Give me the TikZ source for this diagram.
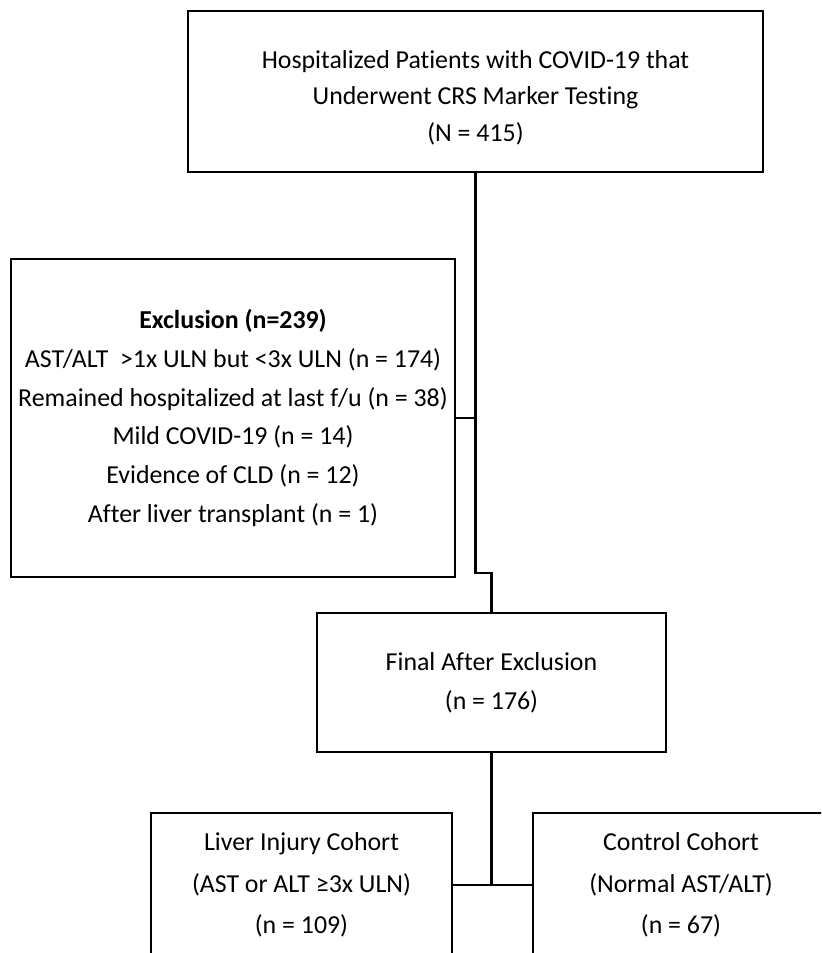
\documentclass[tikz,border=0pt]{standalone}
\usepackage{fontspec}
\setmainfont{Carlito}[Ligatures=NoCommon]
\begin{document}
\begin{tikzpicture}[x=0.75pt,y=-0.75pt,
  box/.style={draw=black,line width=1.7pt,inner sep=0pt,align=center},
  txt/.style={inner sep=0pt,align=center},
  link/.style={draw=black,line width=1.7pt}]
\useasboundingbox (0,0) rectangle (821,953);
\clip (0,0) rectangle (821,953);
\node[box,minimum width=431.25pt,minimum height=120.75pt] (top) at (475.5,91.5) {};
\node[txt,font=\fontsize{19.4}{27.5}\selectfont] (toptext) at (475.5,97.5)
  {Hospitalized Patients with COVID-19 that\\Underwent CRS Marker Testing\\(N = 415)};
\node[box,minimum width=333pt,minimum height=238.5pt,
      font=\fontsize{19.4}{29}\selectfont] (excl) at (233,418)
  {\textbf{Exclusion (n=239)}\\AST/ALT \ >1x ULN but <3x ULN (n = 174)\\Remained hospitalized at last f/u (n = 38)\\Mild COVID-19 (n = 14)\\Evidence of CLD (n = 12)\\After liver transplant (n = 1)};
\node[box,minimum width=261.75pt,minimum height=104.25pt,
      font=\fontsize{19.4}{29}\selectfont] (final) at (491.5,682.5)
  {Final After Exclusion\\(n = 176)};
\node[box,minimum width=225.75pt,minimum height=108pt,
      font=\fontsize{19.4}{31}\selectfont] (liver) at (301.5,885)
  {Liver Injury Cohort\\(AST or ALT ≥3x ULN)\\(n = 109)};
\node[box,minimum width=222pt,minimum height=108pt,
      font=\fontsize{19.4}{31}\selectfont] (control) at (681,885)
  {Control Cohort\\(Normal AST/ALT)\\(n = 67)};
\coordinate (j1) at (475.5,573);
\draw[link] (top.south) -- (j1) -- (j1 -| final.north) -- (final.north);
\draw[link] (excl.east) -- (excl.east -| top.south);
\coordinate (j2) at (final.south |- liver.east);
\draw[link] (final.south) -- (j2);
\draw[link] (liver.east) -- (control.west);
\end{tikzpicture}
\end{document}
